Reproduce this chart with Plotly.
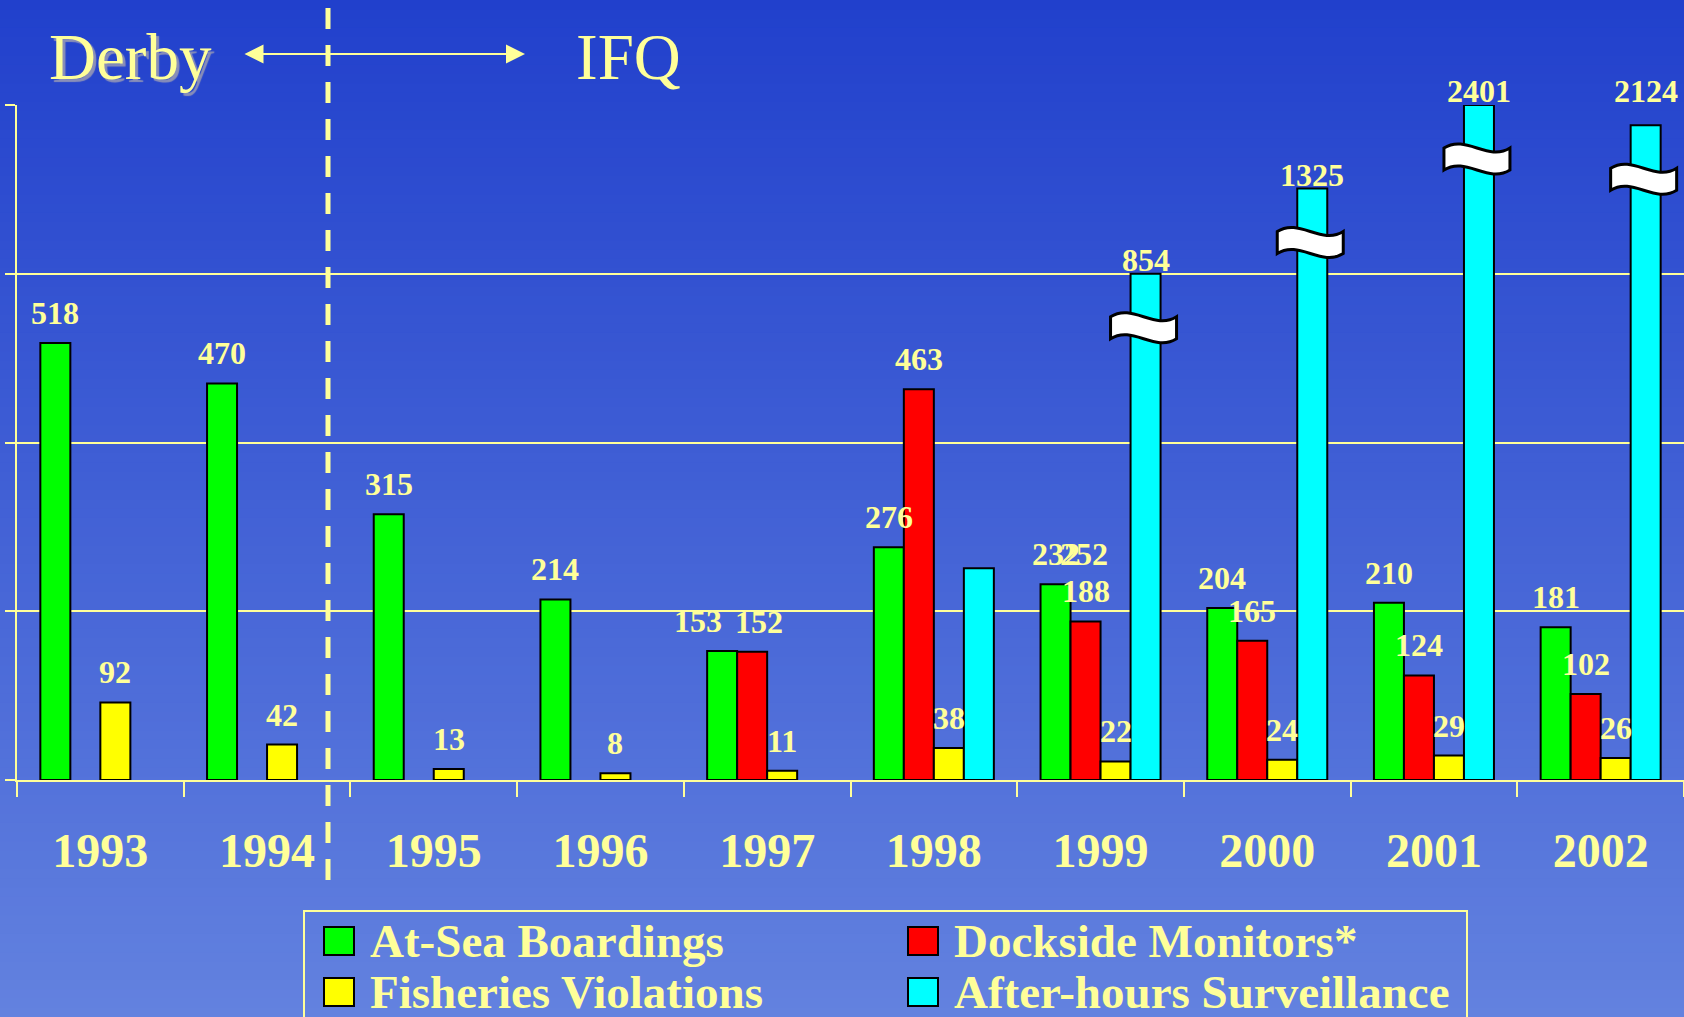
import plotly.graph_objects as go

# ---------------- data ----------------
years = ["1993", "1994", "1995", "1996", "1997", "1998", "1999", "2000", "2001", "2002"]
series_names = ["At-Sea Boardings", "Dockside Monitors*", "Fisheries Violations", "After-hours Surveillance"]
at_sea_boardings = [518, 470, 315, 214, 153, 276, 232, 204, 210, 181]
dockside_monitors = [None, None, None, None, 152, 463, 188, 165, 124, 102]
fisheries_violations = [92, 42, 13, 8, 11, 38, 22, 24, 29, 26]
# labelled values of the after-hours series (1998 bar carries no label)
after_hours_values = [None, None, None, None, None, None, 854, 1325, 2401, 2124]
# heights at which the after-hours bars are drawn on the broken axis
after_hours_drawn = [None, None, None, None, None, 251, 600, 701, 800, 776]
stray_labels = [("1999", "252")]  # extra label printed over the 1999 group in the original
y_tick_values = [0, 200, 400, 600, 800]
era_labels = ["Derby", "IFQ"]

# ---------------- style ----------------
W, H = 1684, 1017
ML, MR, MT, MB = 17, 0, 105, 237
PW, PH = W - ML - MR, H - MT - MB
YMAX = 800
BARGAP = 0.28
TXT = "#ffff99"
SERIF = "Liberation Serif"
colors = ["#00ff00", "#ff0000", "#ffff00", "#00ffff"]
label_nudge = {(0, "1997"): -24, (1, "1997"): 7}


def px(x):
    return (x - ML) / PW


def py(y):
    return (H - MB - y) / PH


series_values = [at_sea_boardings, dockside_monitors, fisheries_violations, after_hours_drawn]
series_labels = [at_sea_boardings, dockside_monitors, fisheries_violations, after_hours_values]

fig = go.Figure()
for name, vals, col in zip(series_names, series_values, colors):
    fig.add_trace(go.Bar(
        x=years, y=vals, name=name, marker=dict(color=col, line=dict(color="black", width=2)),
        showlegend=False, hoverinfo="skip"))

shapes = []
annotations = []

# background gradient
top_c = (33, 64, 204)
bot_c = (99, 130, 223)
N = 110
for i in range(N):
    y0 = i * H / N
    y1 = (i + 1) * H / N + 1
    t = (i + 0.5) / N
    c = tuple(round(a + (b - a) * t) for a, b in zip(top_c, bot_c))
    shapes.append(dict(type="rect", xref="paper", yref="paper", layer="below",
                       x0=px(-2), x1=px(W + 2), y0=py(y0), y1=py(y1),
                       fillcolor="rgb(%d,%d,%d)" % c, line=dict(width=0)))

cat_px = PW / len(years)
slot_px = cat_px * (1 - BARGAP) / len(series_names)
unit_px = PH / YMAX

# value labels (category index used as x position)
for si, (vals, labs) in enumerate(zip(series_values, series_labels)):
    for j, yr in enumerate(years):
        if vals[j] is None or labs[j] is None:
            continue
        xs = (si - 1.5) * slot_px + label_nudge.get((si, yr), 0)
        if si == 3:
            ys = 14
            if labs[j] > vals[j] and YMAX - vals[j] < 30:
                ys += (YMAX - vals[j]) * unit_px  # labels of nearly full bars align with the top line
        else:
            ys = 30
        annotations.append(dict(x=j, y=vals[j], xref="x", yref="y", text=str(labs[j]),
                                showarrow=False, xshift=xs, yshift=ys, yanchor="middle",
                                font=dict(family=SERIF, size=32, color=TXT, weight="bold")))
for yr, txt in stray_labels:
    j = years.index(yr)
    annotations.append(dict(x=j, y=at_sea_boardings[j], xref="x", yref="y", text=txt,
                            showarrow=False, xshift=-1.5 * slot_px + 28, yshift=30, yanchor="middle",
                            font=dict(family=SERIF, size=32, color=TXT, weight="bold")))

# axis-break symbols on truncated bars
def break_path(cx, cy):
    pts_top = [(-33, -11), (-11, -25), (11, 3), (33, -11)]
    pts_bot = [(33, 11), (11, 25), (-11, -3), (-33, 11)]
    f = lambda p: "%.1f,%.1f" % (cx + p[0], cy - p[1])
    return ("M " + f(pts_top[0]) + " C " + f(pts_top[1]) + " " + f(pts_top[2]) + " " + f(pts_top[3]) +
            " L " + f(pts_bot[0]) + " C " + f(pts_bot[1]) + " " + f(pts_bot[2]) + " " + f(pts_bot[3]) + " Z")

for j, yr in enumerate(years):
    v, d = after_hours_values[j], after_hours_drawn[j]
    if v is not None and d is not None and v > d:
        shapes.append(dict(type="path", xref="x", yref="y", xsizemode="pixel", ysizemode="pixel",
                           xanchor=j, yanchor=d, path=break_path(1.5 * slot_px - 2, -54),
                           fillcolor="white", line=dict(color="black", width=3), layer="above"))

# dashed era divider
shapes.append(dict(type="line", xref="paper", yref="paper", x0=px(328), x1=px(328),
                   y0=py(8), y1=py(889), line=dict(color=TXT, width=5, dash="21px,16px"), layer="above"))

# era labels and arrow
annotations.append(dict(x=px(130), y=py(57), xref="paper", yref="paper", text=era_labels[0],
                        showarrow=False, xanchor="center", yanchor="middle",
                        font=dict(family=SERIF, size=65, color=TXT, shadow="3px 3px 1px #8a8fb8")))
annotations.append(dict(x=px(628), y=py(57), xref="paper", yref="paper", text=era_labels[1],
                        showarrow=False, xanchor="center", yanchor="middle",
                        font=dict(family=SERIF, size=65, color=TXT)))
annotations.append(dict(x=px(525), y=py(54), xref="paper", yref="paper", text="",
                        showarrow=True, ax=-(525 - 243), ay=0, axref="pixel", ayref="pixel",
                        arrowside="end+start", arrowhead=2, startarrowhead=2,
                        arrowsize=1.9, startarrowsize=1.9, arrowwidth=2, arrowcolor=TXT,
                        standoff=0, startstandoff=0))

# custom legend
shapes.append(dict(type="rect", xref="paper", yref="paper", x0=px(304), x1=px(1467),
                   y0=py(911), y1=py(1045), line=dict(color=TXT, width=2), fillcolor="rgba(0,0,0,0)"))
leg_x = [324, 908]
leg_y = [941, 992]
for k, (name, col) in enumerate(zip(series_names, colors)):
    cx, ry = leg_x[k % 2], leg_y[k // 2]
    shapes.append(dict(type="rect", xref="paper", yref="paper", x0=px(cx), x1=px(cx + 30),
                       y0=py(ry - 14), y1=py(ry + 14), fillcolor=col, line=dict(color="black", width=2)))
    annotations.append(dict(x=px(cx + 44), y=py(ry), xref="paper", yref="paper", text=name,
                            showarrow=False, xanchor="left", yanchor="middle",
                            font=dict(family=SERIF, size=47, color=TXT, weight="bold")))

fig.update_layout(
    width=W, height=H, margin=dict(l=ML, r=MR, t=MT, b=MB, pad=0, autoexpand=False),
    paper_bgcolor="rgb(66,97,213)", plot_bgcolor="rgba(0,0,0,0)",
    barmode="group", bargap=BARGAP, bargroupgap=0,
    shapes=shapes, annotations=annotations, showlegend=False,
    xaxis=dict(type="category", categoryorder="array", categoryarray=years,
               range=[-0.5, len(years) - 0.5], autorange=False, tickangle=0, automargin=False,
               tickson="boundaries", ticks="outside", ticklen=15, tickwidth=2, tickcolor=TXT,
               showline=True, linecolor=TXT, linewidth=2, showgrid=False, zeroline=False,
               tickfont=dict(family=SERIF, size=48, color=TXT, weight="bold"), ticklabelstandoff=27),
    yaxis=dict(range=[0, YMAX], autorange=False, tickvals=y_tick_values, showticklabels=False,
               ticks="outside", automargin=False,
               ticklen=10, tickwidth=2, tickcolor=TXT, showline=True, linecolor=TXT, linewidth=2,
               showgrid=True, gridcolor=TXT, gridwidth=2, zeroline=False),
)

fig.write_html("out.html", config={"displayModeBar": False},
               post_script="document.body.style.margin='0';document.body.style.overflow='hidden';")
